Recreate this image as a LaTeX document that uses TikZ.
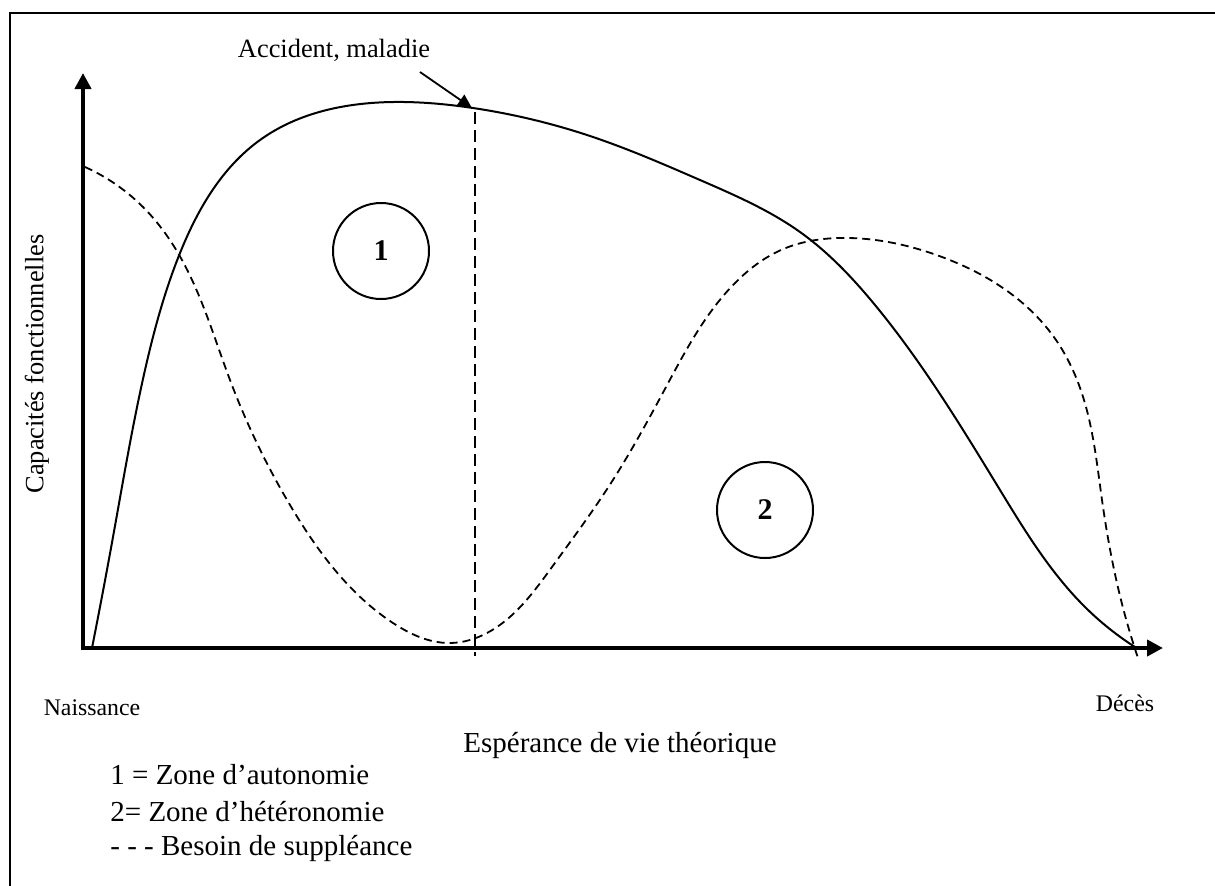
\documentclass[tikz,border=0pt]{standalone}
\usepackage{fontspec}
\setmainfont{Liberation Serif}
\usetikzlibrary{arrows.meta,hobby}
\begin{document}
\begin{tikzpicture}[x=0.5pt,y=-0.5pt,
  txt/.style={inner sep=0pt, font=\fontsize{14.5}{17}\selectfont},
  smalltxt/.style={inner sep=0pt, font=\fontsize{11.9}{14}\selectfont},
  zone/.style={circle, draw, line width=1pt, minimum size=48pt, inner sep=0pt, font=\fontsize{15}{17}\selectfont\bfseries},
  axis/.style={line width=2pt, -{Triangle[length=8pt,width=8pt]}},
  need/.style={line width=0.9pt, dash pattern=on 4pt off 2.5pt}]
\clip (0,0) rectangle (1215,885);
\draw[line width=1.4pt] (10,13) rectangle (1235,905);
% axes
\coordinate (orig) at (83,648);
\coordinate (ytip) at (83,73);
\coordinate (xtip) at (1163,648);
\draw[axis] (83,650) -- (ytip);
\draw[axis] (82,648) -- (xtip);
% capacites fonctionnelles
\draw[line width=1pt, use Hobby shortcut] (92,648) .. (113,537) .. (145,370) .. (180,253) .. (260,140) .. (393,102) .. (473,108) .. (593,137) .. (700,180) .. (800,232) .. (875,305) .. (1000,490) .. (1085,607) .. (1135,647);
% besoin de suppleance
\draw[need, use Hobby shortcut] (85,167) .. (143,207) .. (182,260) .. (230,380) .. (293,510) .. (393,623) .. (450,643) .. (487,633) .. (552,567) .. (611,483) .. (666,387) .. (735,283) .. (781,250) .. (850,238) .. (942,257) .. (1010,293) .. (1056,340) .. (1084,400) .. (1102,500) .. (1121,600) .. (1138,658);
% accident
\coordinate (hit) at (472,108);
\coordinate (accfoot) at (420,72);
\coordinate (hitbase) at (475,112);
\coordinate (hitfoot) at (475,656);
\draw[line width=0.9pt, dash pattern=on 6pt off 3pt] (hitbase) -- (hitfoot);
\node[txt, font=\fontsize{13.2}{15}\selectfont] (acc) at (334,50) {Accident, maladie};
\draw[line width=0.9pt, -{Triangle[length=7pt,width=6.5pt]}] (accfoot) -- (hit);
% zones
\node[zone] (z1) at (381,251) {1};
\node[zone] (z2) at (765,510) {2};
% labels
\node[txt, rotate=90, font=\fontsize{13.2}{15}\selectfont] (ylab) at (37,364) {Capacités fonctionnelles};
\node[txt] (xlab) at (620,745) {Espérance de vie théorique};
\node[smalltxt] (birth) at (92,708) {Naissance};
\node[smalltxt] (death) at (1125,703) {Décès};
% legende
\node[txt, anchor=west] (leg1) at (110,775) {1 = Zone d’autonomie};
\node[txt, anchor=west] (leg2) at (110,812) {2= Zone d’hétéronomie};
\node[txt, anchor=west] (leg3) at (110,848) {- - - Besoin de suppléance};
\end{tikzpicture}
\end{document}
